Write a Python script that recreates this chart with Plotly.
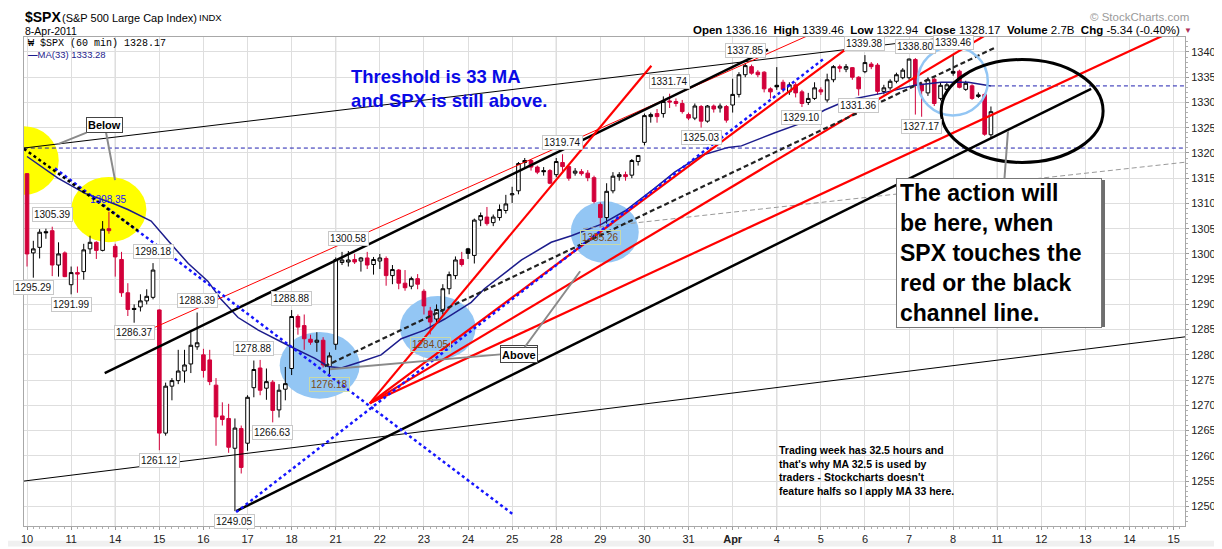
import plotly.graph_objects as go

# $SPX hourly candles, 10-Mar-2011 .. 8-Apr-2011, 7 bars per session
opens = [
    1315.9, 1300.2, 1301.3, 1304.4, 1304.6, 1297.8, 1300.2,
    1293.9, 1296.3, 1296.5, 1301.0, 1302.3, 1300.7, 1305.0,
    1301.5, 1298.9, 1292.3, 1289.2, 1289.5, 1290.7, 1291.4,
    1288.9, 1264.5, 1273.8, 1274.9, 1276.8, 1278.2, 1281.6,
    1280.0, 1279.0, 1274.0, 1267.9, 1267.4, 1261.5, 1265.4,
    1262.5, 1273.5, 1277.4, 1273.4, 1274.6, 1269.1, 1273.2,
    1277.3, 1287.6, 1285.8, 1283.1, 1282.5, 1282.9, 1277.7,
    1282.1, 1298.3, 1298.4, 1298.9, 1298.6, 1299.2, 1297.9,
    1298.6, 1299.1, 1295.7, 1296.8, 1294.2, 1293.6, 1295.1,
    1292.6, 1288.7, 1287.1, 1289.0, 1293.1, 1295.7, 1298.9,
    1301.0, 1299.7, 1306.7, 1307.3, 1306.2, 1307.2, 1308.6,
    1311.7, 1312.5, 1318.5, 1318.5, 1317.2, 1316.5, 1316.5,
    1315.7, 1318.1, 1317.3, 1316.0, 1316.3, 1316.0, 1315.1,
    1309.8, 1307.2, 1312.5, 1315.3, 1315.7, 1315.6, 1318.3,
    1322.1, 1327.2, 1327.8, 1327.8, 1330.3, 1330.2, 1329.8,
    1327.6, 1326.9, 1329.2, 1326.3, 1329.3, 1328.9, 1329.2,
    1329.5, 1331.6, 1335.5, 1337.1, 1336.0, 1336.0, 1332.7,
    1333.4, 1334.0, 1332.1, 1333.5, 1332.1, 1330.0, 1330.8,
    1332.5, 1330.5, 1334.5, 1337.1, 1336.6, 1336.9, 1335.0,
    1336.1, 1337.6, 1337.4, 1332.2, 1332.9, 1334.2, 1334.9,
    1334.9, 1338.5, 1333.6, 1331.9, 1334.6, 1330.8, 1332.6,
    1336.16, 1336.2, 1332.6, 1333.3, 1331.2, 1331.6, 1323.6,
]
highs = [
    1316.0, 1302.6, 1304.9, 1305.0, 1305.39, 1302.3, 1300.5,
    1297.5, 1297.5, 1302.0, 1303.6, 1302.5, 1306.5, 1308.35,
    1302.0, 1300.4, 1294.2, 1290.0, 1292.0, 1293.0, 1298.18,
    1289.0, 1274.5, 1275.4, 1281.0, 1281.0, 1284.5, 1288.39,
    1281.2, 1281.0, 1275.4, 1270.6, 1270.3, 1267.4, 1266.0,
    1272.0, 1278.88, 1279.0, 1277.3, 1275.0, 1274.2, 1277.6,
    1288.88, 1288.0, 1288.0, 1284.0, 1284.5, 1283.5, 1280.5,
    1299.3, 1300.4, 1300.58, 1300.0, 1299.4, 1300.4, 1299.4,
    1300.0, 1299.5, 1297.8, 1297.0, 1296.8, 1295.5, 1296.0,
    1293.0, 1289.5, 1290.0, 1294.0, 1296.5, 1299.5, 1300.4,
    1301.2, 1307.0, 1308.2, 1309.3, 1307.8, 1309.8, 1311.7,
    1313.3, 1318.2, 1319.0, 1318.8, 1317.5, 1317.2, 1316.8,
    1319.0, 1319.74, 1317.8, 1317.0, 1316.8, 1316.6, 1315.5,
    1310.2, 1314.0, 1316.2, 1316.2, 1316.3, 1318.8, 1319.6,
    1327.8, 1328.0, 1328.7, 1331.2, 1331.74, 1330.8, 1330.5,
    1328.0, 1329.8, 1329.5, 1329.5, 1329.6, 1329.8, 1329.5,
    1334.7, 1336.0, 1337.85, 1337.5, 1336.4, 1336.2, 1333.0,
    1337.0, 1334.5, 1334.0, 1334.0, 1332.5, 1331.9, 1334.0,
    1333.0, 1335.7, 1337.4, 1337.5, 1337.6, 1337.0, 1335.2,
    1339.38, 1338.0, 1337.8, 1333.5, 1334.6, 1335.9, 1336.8,
    1338.7, 1338.80, 1334.0, 1335.0, 1335.0, 1334.0, 1334.0,
    1339.46, 1336.5, 1334.3, 1333.6, 1332.0, 1331.9, 1329.2,
]
lows = [
    1297.5, 1295.29, 1299.1, 1303.0, 1295.6, 1295.5, 1295.4,
    1291.99, 1292.3, 1294.9, 1300.0, 1299.0, 1300.5, 1304.0,
    1295.5, 1291.5, 1287.7, 1286.37, 1288.6, 1290.0, 1291.0,
    1261.12, 1264.0, 1271.0, 1274.2, 1274.5, 1276.4, 1281.0,
    1275.5, 1274.0, 1262.0, 1266.0, 1260.6, 1249.05, 1256.5,
    1261.0, 1271.6, 1272.0, 1271.1, 1266.63, 1267.6, 1271.0,
    1276.0, 1284.0, 1281.0, 1282.0, 1280.6, 1277.5, 1276.18,
    1281.0, 1297.8, 1297.5, 1298.0, 1296.5, 1297.0, 1295.9,
    1297.0, 1293.7, 1294.0, 1293.0, 1292.7, 1293.0, 1293.0,
    1288.0, 1284.05, 1286.5, 1288.0, 1292.0, 1295.0, 1297.5,
    1299.0, 1298.1, 1305.5, 1305.6, 1305.5, 1306.6, 1308.0,
    1310.1, 1311.8, 1317.0, 1316.5, 1315.8, 1315.5, 1313.8,
    1315.2, 1316.0, 1314.5, 1315.5, 1315.5, 1314.4, 1310.0,
    1305.26, 1306.0, 1312.0, 1314.5, 1314.5, 1315.0, 1317.5,
    1321.5, 1326.0, 1326.0, 1327.0, 1328.9, 1329.2, 1327.8,
    1326.5, 1326.5, 1325.03, 1326.0, 1328.0, 1328.0, 1326.0,
    1328.0, 1331.0, 1335.0, 1335.5, 1335.0, 1332.0, 1330.8,
    1332.5, 1332.0, 1331.5, 1331.0, 1329.10, 1329.5, 1330.5,
    1331.5, 1330.0, 1334.0, 1336.0, 1336.0, 1334.5, 1331.36,
    1335.8, 1336.6, 1331.5, 1331.6, 1332.5, 1333.8, 1334.6,
    1334.5, 1327.6, 1327.17, 1331.3, 1329.3, 1330.4, 1332.2,
    1335.3, 1332.8, 1332.3, 1330.5, 1330.9, 1323.4, 1322.94,
]
closes = [
    1300.0, 1301.0, 1304.3, 1304.2, 1297.8, 1300.0, 1295.5,
    1296.3, 1296.0, 1300.8, 1302.3, 1300.7, 1304.9, 1304.6,
    1299.4, 1292.3, 1289.0, 1289.0, 1290.7, 1291.6, 1296.8,
    1264.5, 1273.8, 1274.9, 1276.8, 1278.0, 1281.9, 1282.4,
    1276.9, 1274.7, 1267.7, 1267.2, 1261.7, 1265.5, 1257.7,
    1271.6, 1277.1, 1273.0, 1274.7, 1269.0, 1273.0, 1274.3,
    1287.6, 1285.5, 1283.2, 1282.5, 1282.9, 1278.0, 1279.8,
    1298.9, 1298.8, 1298.8, 1298.4, 1299.2, 1297.8, 1298.9,
    1299.2, 1295.7, 1296.9, 1294.2, 1293.3, 1295.1, 1294.0,
    1289.7, 1286.5, 1289.0, 1293.1, 1295.9, 1298.8, 1297.9,
    1300.1, 1306.7, 1307.6, 1306.0, 1307.3, 1308.8, 1309.9,
    1311.9, 1317.9, 1318.1, 1317.2, 1316.2, 1316.3, 1314.0,
    1318.3, 1317.3, 1315.0, 1316.4, 1315.9, 1315.1, 1310.4,
    1307.2, 1312.4, 1315.4, 1315.7, 1315.3, 1318.5, 1319.5,
    1327.4, 1327.6, 1327.2, 1330.2, 1330.1, 1329.8, 1328.2,
    1326.9, 1329.3, 1326.3, 1329.3, 1328.7, 1329.3, 1326.5,
    1331.6, 1335.5, 1337.3, 1335.8, 1335.5, 1332.7, 1332.1,
    1333.1, 1332.6, 1333.5, 1331.9, 1329.8, 1330.8, 1332.9,
    1332.1, 1334.5, 1337.1, 1336.8, 1337.1, 1335.0, 1332.7,
    1337.9, 1337.1, 1332.2, 1332.9, 1334.2, 1335.5, 1336.4,
    1338.6, 1333.4, 1332.3, 1334.5, 1329.8, 1333.4, 1333.5,
    1335.8, 1333.0, 1333.8, 1330.8, 1331.5, 1323.7, 1328.17,
]
# filled black candles (close below open but above prior close)
black_bars = [3, 17, 70, 79, 82, 119, 147]
bars = list(range(len(closes)))

# MA(33): bar position, value
ma_x = [0, 2.8, 4.9, 9.2, 13.9, 16.0, 19.7, 22.4, 25.6, 28.7, 30.8, 33.5, 36.7,
        41.4, 45.7, 47.8, 49.9, 53.1, 56.2, 59.4, 63.1, 66.3, 70.5, 72.6, 78.5,
        83.2, 86.4, 91.2, 94.9, 99.6, 102.8, 107.0, 111.3, 113.4, 118.7, 122.9,
        126.6, 130.3, 135.6, 140.9, 145.1, 149.4, 153]
ma_y = [1319.3, 1316.9, 1315.0, 1312.0, 1309.9, 1308.8, 1306.5, 1302.6, 1298.1,
        1294.6, 1291.0, 1287.4, 1284.9, 1281.9, 1279.3, 1277.7, 1277.4, 1278.7,
        1280.0, 1283.2, 1284.9, 1287.1, 1290.4, 1293.1, 1298.8, 1302.3, 1303.6,
        1305.9, 1308.5, 1313.0, 1316.2, 1319.5, 1321.1, 1321.4, 1324.0, 1325.9,
        1328.5, 1330.5, 1331.8, 1333.4, 1334.0, 1334.0, 1333.28]

# swing price labels
label_bars = [4, 1, 13, 7, 20, 17, 27, 21, 36, 39, 33, 42, 48, 51, 64, 85, 91,
              102, 107, 114, 123, 133, 132, 141, 142, 147]
label_vals = [1305.39, 1295.29, 1308.35, 1291.99, 1298.18, 1286.37, 1288.39,
              1261.12, 1278.88, 1266.63, 1249.05, 1288.88, 1276.18, 1300.58,
              1284.05, 1319.74, 1305.26, 1331.74, 1325.03, 1337.85, 1329.10,
              1339.38, 1331.36, 1338.80, 1327.17, 1339.46]
label_up = [1, 0, 1, 0, 1, 0, 1, 0, 1, 0, 0, 1, 0, 1, 0, 1, 0, 1, 0, 1, 0, 1,
            0, 1, 0, 1]
tinted_labels = [1276.18, 1284.05, 1305.26]

day_labels = ["10", "11", "14", "15", "16", "17", "18", "21", "22", "23", "24",
              "25", "28", "29", "30", "31", "<b>Apr</b>", "4", "5", "6", "7", "8",
              "11", "12", "13", "14", "15"]
monday_idx = [2, 7, 12, 17, 22]
bars_per_day = 7

# hand-drawn trend lines: (bar0, price0, bar1, price1)
thin_black = [(-0.5, 1320.97, 183.8, 1348.54), (-0.5, 1255.0, 183.8, 1283.57)]
thick_black = [(33.2, 1249.05, 168.9, 1332.7), (12.33, 1276.4, 117.6, 1340.47)]
thin_red = [(19.2, 1284.85, 135.0, 1349.4)]
red_fan = [(54.4, 1270.4, 99.1, 1337.28), (54.4, 1270.4, 140.7, 1350.5),
           (54.4, 1270.4, 159.2, 1348.6), (54.4, 1270.4, 183.8, 1345.27)]
blue_dotted = [(33.2, 1248.85, 126.4, 1338.6), (4.44, 1316.95, 77.1, 1248.46)]
black_dotted = [(-0.5, 1320.83, 17.6, 1304.58)]
black_dashed = [(47.25, 1277.73, 153.6, 1340.83)]
gray_dashed = [(88.25, 1305.0, 183.8, 1318.16)]
navy_dashed = [(-0.5, 1320.97, 183.8, 1320.97), (153, 1333.28, 183.8, 1333.28)]

# circles: (bar0, bar1, price0, price1)
yellow_circles = [(-6.08, 5.03, 1311.71, 1325.3), (7.03, 18.94, 1302.33, 1315.26)]
blue_circles = [(40.1, 52.8, 1271.33, 1284.52), (59.2, 71.2, 1279.03, 1291.65),
                (86.3, 97.1, 1298.25, 1310.41)]
blue_ring = (141.4, 152.5, 1327.42, 1341.03)
black_ellipse = (145.1, 170.8, 1318.12, 1338.5)

RED = "#d2003a"
NAVY = "#1c1c8c"
FONT = "Liberation Sans"
W, H = 1222, 549
ML, MR, MT, MB = 16, 45, 29, 21


def paper_x(px):
    return (px - ML) / (W - ML - MR)


def paper_y(py):
    return (H - MB - py) / (H - MT - MB)


fig = go.Figure()

main_idx = [i for i in bars if i not in black_bars]
fig.add_trace(go.Candlestick(
    x=[bars[i] for i in main_idx],
    open=[opens[i] for i in main_idx], high=[highs[i] for i in main_idx],
    low=[lows[i] for i in main_idx], close=[closes[i] for i in main_idx],
    increasing=dict(line=dict(color="black", width=1), fillcolor="white"),
    decreasing=dict(line=dict(color=RED, width=1), fillcolor=RED),
    whiskerwidth=0, showlegend=False, hoverinfo="skip"))
fig.add_trace(go.Candlestick(
    x=[bars[i] for i in black_bars],
    open=[opens[i] for i in black_bars], high=[highs[i] for i in black_bars],
    low=[lows[i] for i in black_bars], close=[closes[i] for i in black_bars],
    increasing=dict(line=dict(color="black", width=1), fillcolor="white"),
    decreasing=dict(line=dict(color="black", width=1), fillcolor="black"),
    whiskerwidth=0, showlegend=False, hoverinfo="skip"))
fig.add_trace(go.Scatter(x=ma_x, y=ma_y, mode="lines", line=dict(color=NAVY, width=1.5),
                         showlegend=False, hoverinfo="skip"))

shapes = []
for d in monday_idx:
    shapes.append(dict(type="line", xref="x", yref="paper", x0=d * bars_per_day,
                       x1=d * bars_per_day, y0=0, y1=1, layer="between",
                       line=dict(color="#bdbdbd", width=1)))
for c in yellow_circles:
    shapes.append(dict(type="circle", xref="x", yref="y", x0=c[0], x1=c[1], y0=c[2], y1=c[3],
                       fillcolor="#ffff00", line=dict(width=0), layer="between"))
for c in blue_circles:
    shapes.append(dict(type="circle", xref="x", yref="y", x0=c[0], x1=c[1], y0=c[2], y1=c[3],
                       fillcolor="#93c6f4", line=dict(width=0), layer="between"))


def add_lines(segs, color, width, dash="solid"):
    for s in segs:
        shapes.append(dict(type="line", xref="x", yref="y", x0=s[0], y0=s[1], x1=s[2], y1=s[3],
                           line=dict(color=color, width=width, dash=dash)))


add_lines(navy_dashed, "#2020b0", 1, "4px,3px")
add_lines(gray_dashed, "#9a9a9a", 1, "5px,3px")
add_lines(thin_black, "black", 1)
add_lines(thin_red, "#ff0000", 1)
add_lines(thick_black, "black", 2.5)
add_lines(red_fan, "#ff0000", 2.2)
add_lines(blue_dotted, "#1515ff", 2.5, "3px,3px")
add_lines(black_dotted, "black", 2.5, "3px,3px")
add_lines(black_dashed, "#222222", 2.2, "5px,3px")

shapes.append(dict(type="circle", xref="x", yref="y", x0=blue_ring[0], x1=blue_ring[1],
                   y0=blue_ring[2], y1=blue_ring[3], line=dict(color="#93c6f4", width=2.5)))
shapes.append(dict(type="circle", xref="x", yref="y", x0=black_ellipse[0], x1=black_ellipse[1],
                   y0=black_ellipse[2], y1=black_ellipse[3], line=dict(color="black", width=3)))
# shadow behind the big callout box
shapes.append(dict(type="rect", xref="paper", yref="paper", x0=paper_x(891), x1=paper_x(1097),
                   y0=paper_y(325), y1=paper_y(175), fillcolor="#6e6e6e", line=dict(width=0)))
# light strip under the date axis
shapes.append(dict(type="rect", xref="paper", yref="paper", x0=paper_x(0), x1=paper_x(W),
                   y0=paper_y(H), y1=paper_y(543), fillcolor="#f0f0f0", line=dict(width=0),
                   layer="below"))

ann = []
for b, v, up in zip(label_bars, label_vals, label_up):
    txt = f"{v:.2f}"
    if v == 1308.35:
        ann.append(dict(x=b, y=v, text=txt, showarrow=False, yshift=12,
                        font=dict(family=FONT, size=10, color="#1515ff")))
    elif v in tinted_labels:
        ann.append(dict(x=b, y=v, text=txt, showarrow=False, yshift=-10,
                        font=dict(family=FONT, size=10, color="#7a4a14"),
                        bordercolor="#c9d9a8", borderwidth=1, borderpad=1))
    else:
        ann.append(dict(x=b, y=v, text=txt, showarrow=False, yshift=12 if up else -10,
                        font=dict(family=FONT, size=10, color="#111111"), bgcolor="white",
                        bordercolor="#c8c8c8", borderwidth=1, borderpad=1))

# callouts with pointers
box = dict(font=dict(family=FONT, size=11, color="black"), bgcolor="white",
           bordercolor="#444444", borderwidth=1, borderpad=1, showarrow=True,
           arrowhead=0, arrowwidth=2, arrowcolor="#8a8a8a", standoff=0)
ann.append(dict(x=13.97, y=1314.62, ax=-10.5, ay=-55.5, text="<b>Below</b>", **box))
ann.append(dict(x=4.92, y=1321.75, ax=46.5, ay=-18.8, text="<b>Below</b>", **box))
ann.append(dict(x=48.1, y=1277.15, ax=189, ay=-16.5, text="<b>Above</b>", **box))
ann.append(dict(x=87.8, y=1296.56, ax=-61, ay=83.5, text="<b>Above</b>", **box))
ann.append(dict(x=155.7, y=1324.3, ax=-9, ay=121.7,
                text="<b>The action will<br>be here, when<br>SPX touches the<br>"
                     "red or the black<br>channel line.</b>",
                align="left", width=198, height=142, borderpad=3,
                font=dict(family=FONT, size=23, color="black"), bgcolor="white",
                bordercolor="#777777", borderwidth=1, showarrow=True, arrowhead=0,
                arrowwidth=2, arrowcolor="#8a8a8a", standoff=0))

ann.append(dict(xref="paper", yref="paper", x=paper_x(341), y=paper_y(82), xanchor="left",
                yanchor="middle", align="left", showarrow=False,
                text="<b>Threshold is 33 MA<br>and SPX is still above.</b>",
                font=dict(family=FONT, size=18.5, color="#0a0ae6")))
ann.append(dict(xref="paper", yref="paper", x=paper_x(769), y=paper_y(471), xanchor="left",
                yanchor="middle", align="left", showarrow=False,
                text="<b>Trading week has 32.5 hours and<br>that's why MA 32.5 is used by<br>"
                     "traders - Stockcharts doesn't<br>feature halfs so I apply MA 33 here.</b>",
                font=dict(family=FONT, size=10.5, color="black")))

# header and in-plot legend
hdr = dict(xref="paper", yref="paper", showarrow=False, yanchor="middle")
ann.append(dict(x=paper_x(15), y=paper_y(9), xanchor="left", text="<b>$SPX</b>",
                font=dict(family=FONT, size=14, color="black"), **hdr))
ann.append(dict(x=paper_x(52), y=paper_y(9.5), xanchor="left", text="(S&P 500 Large Cap Index)",
                font=dict(family=FONT, size=11, color="black"), **hdr))
ann.append(dict(x=paper_x(189), y=paper_y(9.5), xanchor="left", text="INDX",
                font=dict(family=FONT, size=9.5, color="black"), **hdr))
ann.append(dict(x=paper_x(15), y=paper_y(22.5), xanchor="left", text="8-Apr-2011",
                font=dict(family=FONT, size=10.5, color="black"), **hdr))
ann.append(dict(x=paper_x(1174), y=paper_y(22), xanchor="right",
                text="<b>Open</b> 1336.16  <b>High</b> 1339.46  <b>Low</b> 1322.94  "
                     "<b>Close</b> 1328.17  <b>Volume</b> 2.7B  <b>Chg</b> -5.34 (-0.40%)",
                font=dict(family=FONT, size=11.5, color="black"), **hdr))
ann.append(dict(x=paper_x(1180), y=paper_y(22), xanchor="center", text="▼",
                font=dict(family=FONT, size=8, color="#b0305a"), **hdr))
ann.append(dict(x=paper_x(1183), y=paper_y(9), xanchor="right", text="© StockCharts.com",
                font=dict(family=FONT, size=11.5, color="#9a9a9a"), **hdr))
ann.append(dict(x=paper_x(18), y=paper_y(35.5), xanchor="left", text="₩ $SPX (60 min) 1328.17",
                font=dict(family="Liberation Mono", size=10, color="black"), **hdr))
ann.append(dict(x=paper_x(18), y=paper_y(46.5), xanchor="left", text="<b>—</b>MA(33) 1333.28",
                font=dict(family=FONT, size=9.5, color=NAVY), **hdr))

fig.update_layout(
    width=W, height=H,
    margin=dict(l=ML, r=MR, t=MT, b=MB),
    paper_bgcolor="white", plot_bgcolor="white",
    showlegend=False, hovermode=False, boxgap=0.18,
    shapes=shapes, annotations=ann,
    xaxis=dict(
        type="linear", range=[-0.48, 183.8], rangeslider=dict(visible=False),
        tickmode="array", tickvals=[d * bars_per_day for d in range(len(day_labels))],
        ticktext=day_labels, showgrid=True, gridcolor="#dedede", gridwidth=1,
        ticks="outside", ticklen=3, tickcolor="#9a9a9a",
        minor=dict(tickmode="linear", tick0=0, dtick=1, ticks="outside", ticklen=2,
                   tickcolor="#b0b0b0", showgrid=False),
        showline=True, mirror=True, linecolor="#a8a8a8", zeroline=False,
        tickfont=dict(family=FONT, size=11, color="#222222")),
    yaxis=dict(
        side="right", range=[1246.1, 1342.97], tickmode="array",
        tickvals=list(range(1250, 1341, 5)), showgrid=True, gridcolor="#dedede",
        ticks="outside", ticklen=3, tickcolor="#9a9a9a",
        minor=dict(tickmode="linear", tick0=1250, dtick=1, ticks="outside", ticklen=2,
                   tickcolor="#b0b0b0", showgrid=False),
        showline=True, mirror=True, linecolor="#a8a8a8", zeroline=False,
        tickfont=dict(family=FONT, size=11, color="#222222")),
)

fig.write_html("out.html")
